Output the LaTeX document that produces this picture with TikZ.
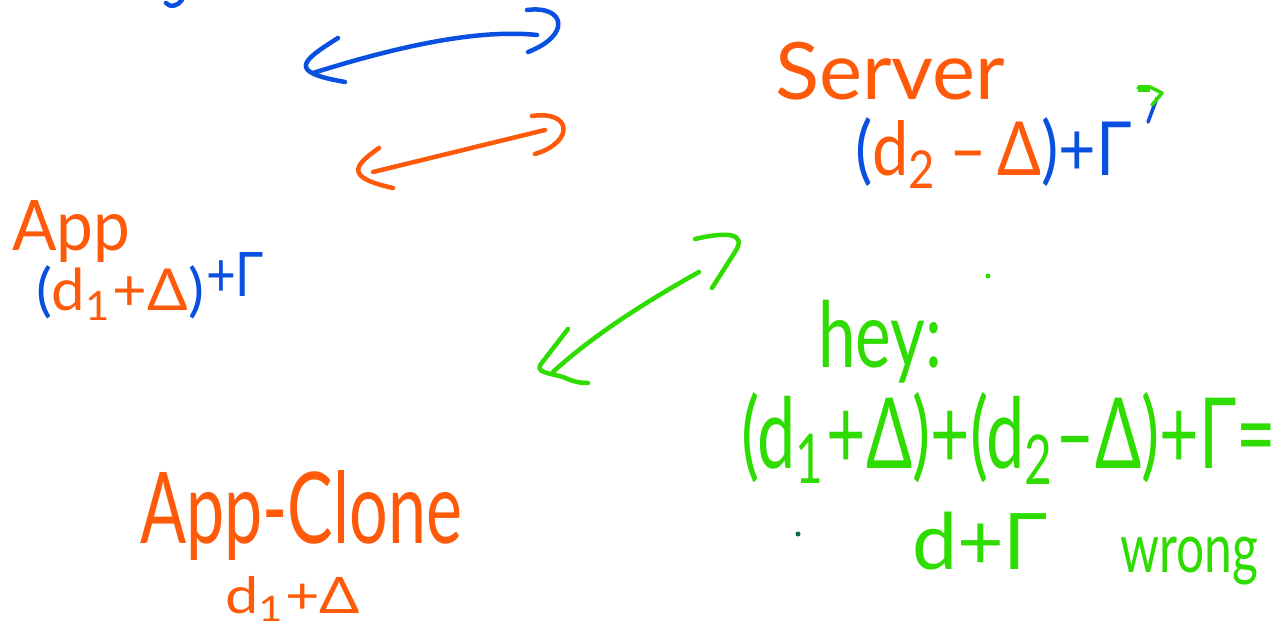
\documentclass[tikz,border=0pt]{standalone}
\usepackage{fontspec}
\setmainfont{Lato}
\usepackage{graphicx}
\definecolor{hwo}{HTML}{FF5A0A}
\definecolor{hwb}{HTML}{0A50E0}
\definecolor{hwg}{HTML}{2EDC00}
\definecolor{hwt}{HTML}{0B6B5B}
\newcommand{\fitbox}[3]{\resizebox*{#1pt}{#2pt}{#3}}
\tikzset{
  txt/.style={inner sep=0pt, outer sep=0pt, anchor=north west},
  pen/.style={line width=4.5pt, line cap=round, line join=round},
  thinpen/.style={line width=3.5pt, line cap=round, line join=round}
}
\begin{document}
\begin{tikzpicture}[x=1pt, y=-1pt]
\useasboundingbox (0,0) rectangle (1288,627);
\fill[white] (0,0) rectangle (1288,627);

% ---- texts ----
\node[txt, text=hwo] (server) at (775,42) {\fitbox{230}{58}{Server}};
\node[txt] (serverexp) at (855,118) {\fitbox{277}{70}{\color{hwb}(\color{hwo}d\textsubscript{2}\,–\,Δ\color{hwb})+Γ}};
\node[txt, text=hwo] (app) at (12,200) {\fitbox{118}{62}{App}};
\node[txt] (appexp) at (36,266) {\fitbox{168}{54}{\color{hwb}(\color{hwo}d\textsubscript{1}+Δ\color{hwb})}};
\node[txt, text=hwb] (appgamma) at (206,252) {\fitbox{58}{44}{+Γ}};
\node[txt, text=hwo] (clone) at (140,470) {\fitbox{322}{90}{App-Clone}};
\node[txt, text=hwo] (cloneexp) at (225,576) {\fitbox{135}{45}{d\textsubscript{1}+Δ}};
\node[txt, text=hwg] (hey) at (818,300) {\fitbox{124}{83}{hey:}};
\node[txt, text=hwg] (eq) at (741,392) {\fitbox{535}{92}{(d\textsubscript{1}+Δ)+(d\textsubscript{2}–Δ)+Γ=}};
\node[txt, text=hwg] (res) at (912,512) {\fitbox{136}{58}{d+Γ}};
\node[txt, text=hwg] (wrong) at (1120,537) {\fitbox{138}{48}{wrong}};

% ---- dots ----
\fill[hwg] (988,276) circle (2.5pt);
\fill[hwt] (798,534) circle (2.5pt);

% ---- small marks ----
\coordinate (topmark1) at (166,3);
\coordinate (topmark2) at (182,0);
\draw[pen, hwb] (topmark1) .. controls (170,8) and (178,6) .. (topmark2);
\coordinate (tick1) at (1157,98);
\coordinate (tick2) at (1148,122);
\draw[thinpen, hwb] (tick1) -- (tick2);
\draw[thinpen, hwg] (1138,88) -- (1150,87) -- (1162,93) -- (1152,105);
\fill[hwg] (1138,85) rectangle (1150,92);

% ---- blue double arrow ----
\coordinate (bL) at (313,73);
\coordinate (bR) at (537,35);
\draw[pen, hwb] (bL) .. controls (380,52) and (470,28) .. (bR);
\draw[pen, hwb] (338,38) .. controls (300,62) and (288,72) .. (345,82);
\draw[pen, hwb] (527,10) .. controls (565,5) and (572,35) .. (528,52);

% ---- orange double arrow ----
\coordinate (oL) at (373,172);
\coordinate (oR) at (545,130);
\draw[pen, hwo] (oL) -- (oR);
\draw[pen, hwo] (379,148) .. controls (355,165) and (343,177) .. (393,188);
\draw[pen, hwo] (532,116) .. controls (572,110) and (575,142) .. (535,154);

% ---- green double arrow ----
\coordinate (gR) at (699,272);
\coordinate (gL) at (553,372);
\draw[pen, hwg] (gR) .. controls (640,305) and (590,338) .. (gL);
\draw[pen, hwg] (695,239) .. controls (725,232) and (748,232) .. (735,252) -- (712,288);
\draw[pen, hwg] (568,329) -- (541,364) .. controls (535,372) and (548,373) .. (563,377) .. controls (572,381) and (578,383) .. (588,383);
\end{tikzpicture}
\end{document}
